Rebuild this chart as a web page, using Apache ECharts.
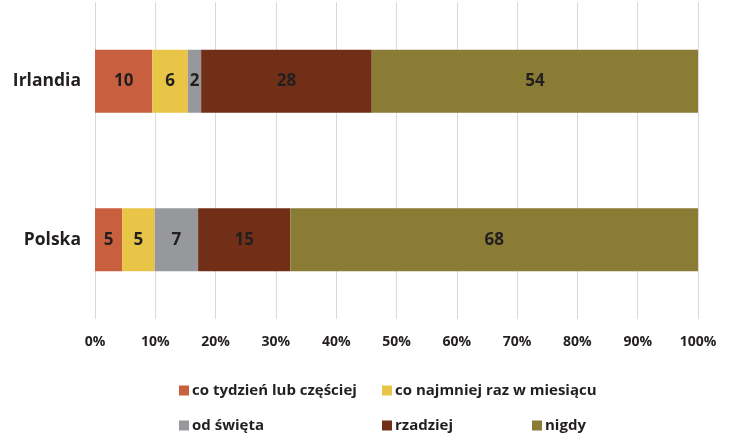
<!DOCTYPE html>
<html>
<head>
<meta charset="utf-8">
<script src="https://cdn.jsdelivr.net/npm/echarts@6/dist/echarts.min.js"></script>
<style>
html, body { margin: 0; padding: 0; background: #fff; }
#chart { width: 734px; height: 434px; }
</style>
</head>
<body>
<div id="chart"></div>
<script>
var countries = ["Irlandia", "Polska"];
var seriesNames = ["co tydzień lub częściej", "co najmniej raz w miesiącu", "od święta", "rzadziej", "nigdy"];
var colors = ["#C8603F", "#E8C547", "#97989C", "#722F18", "#8A7B35"];
var weekly = [9.5, 4.5];
var monthly = [5.9, 5.4];
var holidays = [2.2, 7.2];
var rarely = [28.3, 15.3];
var never = [54.1, 67.6];
var xTicks = ["0%", "10%", "20%", "30%", "40%", "50%", "60%", "70%", "80%", "90%", "100%"];

var font = "Open Sans";
var allData = [weekly, monthly, holidays, rarely, never];

var series = [];
for (var i = 0; i < seriesNames.length; i++) {
    series.push({
        name: seriesNames[i],
        type: 'bar',
        stack: 'total',
        barWidth: 63,
        data: allData[i].slice().reverse(),
        itemStyle: { color: colors[i] },
        label: {
            show: true,
            position: 'inside',
            color: '#231F20',
            fontFamily: font,
            fontWeight: 'bold',
            fontSize: 17,
            formatter: function (p) { return Math.round(p.value); }
        }
    });
}

// one legend per entry, laid out like the original two-row key
var legendSpots = [[174, 378], [377, 378], [174, 413], [377, 413], [527, 413]];
var legends = [];
for (var j = 0; j < seriesNames.length; j++) {
    legends.push({
        data: [seriesNames[j]],
        left: legendSpots[j][0],
        top: legendSpots[j][1],
        itemWidth: 10,
        itemHeight: 10,
        icon: 'rect',
        textStyle: { fontFamily: font, fontWeight: 'bold', fontSize: 15, color: '#231F20', padding: [0, 0, 0, -2] }
    });
}

var chart = echarts.init(document.getElementById('chart'));
chart.setOption({
    animation: false,
    grid: { left: 95, right: 36, top: 2, height: 317 },
    legend: legends,
    xAxis: {
        type: 'value',
        min: 0,
        max: 100,
        interval: 10,
        axisLine: { show: false },
        axisTick: { show: false },
        splitLine: { lineStyle: { color: '#D9D9D9', width: 1 } },
        axisLabel: {
            margin: 16,
            fontFamily: font,
            fontWeight: 'bold',
            fontSize: 14,
            color: '#231F20',
            formatter: function (v) { return xTicks[Math.round(v / 10)]; }
        }
    },
    yAxis: {
        type: 'category',
        data: countries.slice().reverse(),
        axisLine: { show: false },
        axisTick: { show: false },
        axisLabel: {
            margin: 14,
            fontFamily: font,
            fontWeight: 'bold',
            fontSize: 17.5,
            color: '#231F20'
        }
    },
    series: series
});
</script>
</body>
</html>
